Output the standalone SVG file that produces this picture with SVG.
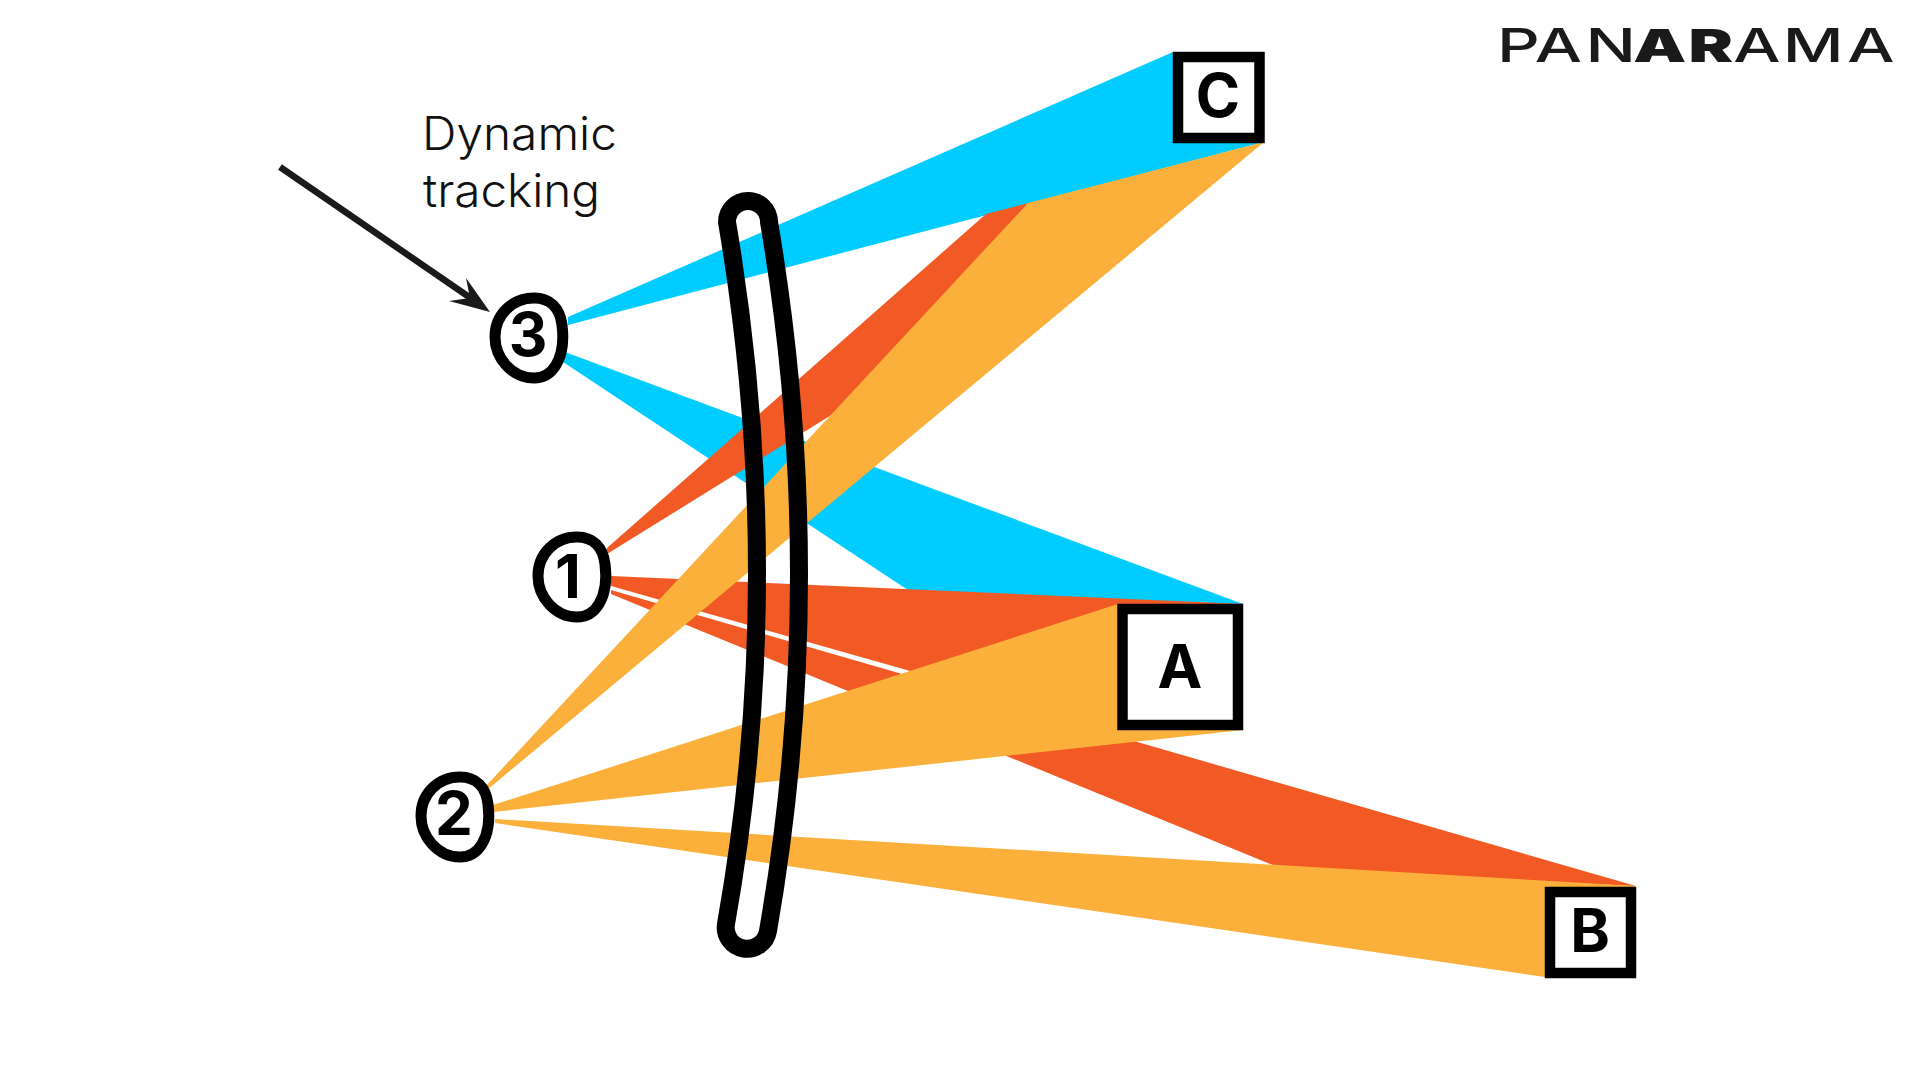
<svg xmlns="http://www.w3.org/2000/svg" width="1920" height="1081" viewBox="0 0 1920 1081">
<style>
.blue{fill:#00CCFF}
.red{fill:#F15A24}
.orange{fill:#FBB03B}
.box{fill:#fff;stroke:#000;stroke-width:10.500}
.blob{fill:#fff;stroke:#000;stroke-width:11}
.lab{font-family:Inter,"Liberation Sans",sans-serif;font-weight:700;font-size:60px;fill:#000;text-anchor:middle}
.note{font-family:Inter,"Open Sans",sans-serif;font-weight:300;font-size:46px;fill:#111}
.logo{font-family:Inter,"Liberation Sans",sans-serif;font-size:46px;fill:#1a1a1a}
</style>
<defs>
<path id="blobShape" class="blob" d="M44,5C60,5 70,15 72,32C74,48 72,62 66,72C60,82 52,85 44,85C22,85 5,65 5,44C5,22 22,5 44,5Z"/>
</defs>
<rect width="1920" height="1081" fill="#fff"/>
<g id="connectors">
<polygon class="blue" points="568,317 1173,52 1264,142 568,325"/>
<polygon class="blue" points="565,352 1243,604 923,600 563,362"/>
<polygon class="red" points="607,548 986,214 1032,202 833,414 607,554"/>
<polygon class="red" points="611,576 1243,604 1118,730 611,586"/>
<polygon class="red" points="611,590 1636,886 1285,870 611,594"/>
<polygon class="orange" points="485,787 1028,203 1264,142 487,790"/>
<polygon class="orange" points="493,805 1118,604 1243,730 493,812"/>
<polygon class="orange" points="495,819 1636,886 1545,977 495,823"/>
<line x1="280" y1="167" x2="472" y2="299" stroke="#1a1a1a" stroke-width="6.500"/>
<polygon points="490,312 466,278 470,298 449,301" fill="#1a1a1a"/>
</g>
<g id="tracker"><path d="M727,222A21,21 0 0 1 769,222Q829.500,578 768,931A21,21 0 0 1 726,924Q787.500,578 727,222Z" fill="none" stroke="#000" stroke-width="18"/></g>
<g id="node-3"><use href="#blobShape" x="490" y="293"/><text class="lab" x="528" y="356">3</text></g>
<g id="node-1"><use href="#blobShape" x="533" y="532"/><text class="lab" x="568" y="598">1</text></g>
<g id="node-2"><use href="#blobShape" x="416" y="772"/><text class="lab" x="454" y="835">2</text></g>
<g id="target-c"><rect class="box" x="1178" y="57" width="81.500" height="81"/><text class="lab" x="1218" y="117">C</text></g>
<g id="target-a"><rect class="box" x="1122.500" y="609" width="115.500" height="116"/><text class="lab" x="1180" y="688">A</text></g>
<g id="target-b"><rect class="box" x="1550" y="892" width="81" height="81"/><text class="lab" x="1590" y="952">B</text></g>
<g id="note"><text class="note" x="422" y="150" textLength="195" lengthAdjust="spacingAndGlyphs">Dynamic</text><text class="note" x="423" y="207" textLength="177" lengthAdjust="spacingAndGlyphs">tracking</text></g>
<g id="logo"><text class="logo" transform="translate(1497,62) scale(1.45,1)" x="0 26 61 94 132 163 197 241.500"><tspan font-weight="500">PAN</tspan><tspan font-weight="900">AR</tspan><tspan font-weight="500">AMA</tspan></text></g>
</svg>
